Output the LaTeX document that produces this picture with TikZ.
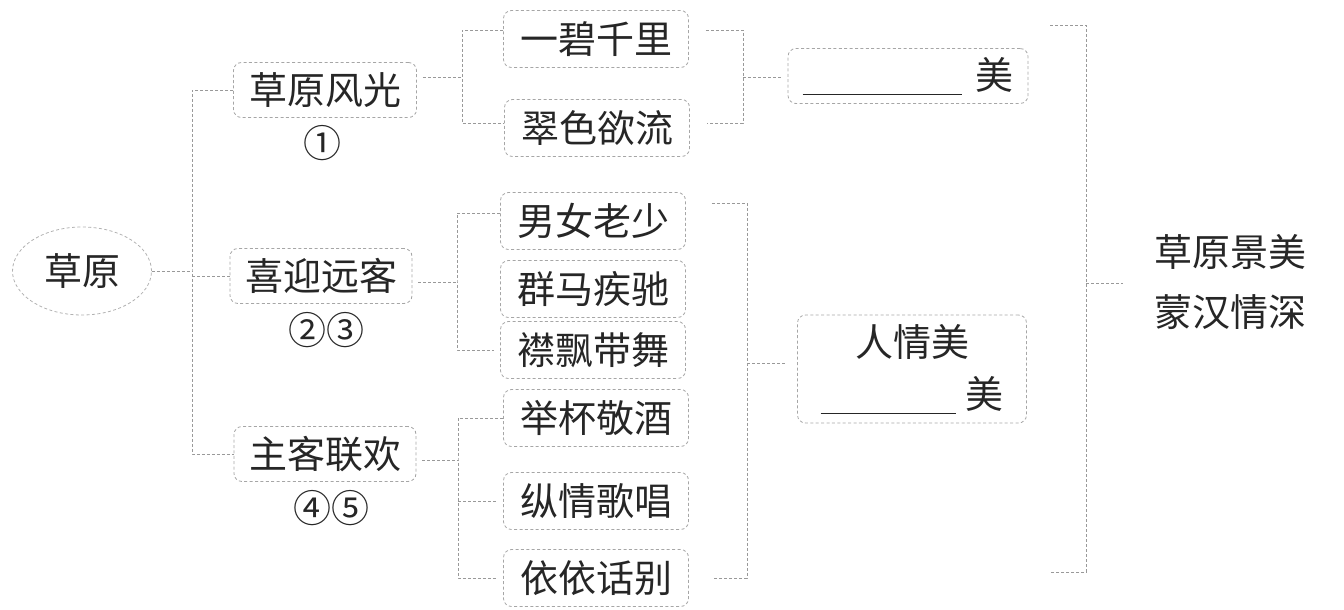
\documentclass[tikz,border=0pt]{standalone}
\usepackage{fontspec}
\newfontfamily\cjk{Noto Sans CJK SC}
\usetikzlibrary{positioning,shapes.geometric}

\begin{document}
\begin{tikzpicture}[x=0.5pt,y=-0.5pt,
		every node/.style={font=\cjk\fontsize{19pt}{26pt}\selectfont,text=black!85},
		link/.style={draw=black!40,dash pattern=on 1.5pt off 1pt,line width=0.4pt},
		tbox/.style={draw=black!35,dash pattern=on 1.5pt off 1.2pt,line width=0.4pt,rounded corners=4pt,
			minimum width=92.5pt,minimum height=28.5pt,inner sep=0pt},
		blank/.style={\rule[-3pt]{#1}{0.7pt}}]
	\useasboundingbox (0,0) rectangle (1344,610);
	\node[ellipse,draw=black!30,dash pattern=on 1.5pt off 1.2pt,line width=0.4pt,
		minimum width=69.5pt,minimum height=44pt,inner sep=0pt] (root) at (82,271) {草原};
	\node[tbox,minimum width=91.5pt,minimum height=27.5pt] (p1) at (325,90) {草原风光};
	\node (n1) at (322,143) {①};
	\node[tbox,minimum width=91pt,minimum height=27.5pt] (p2) at (321,276) {喜迎远客};
	\node (n2) at (326,330) {②③};
	\node[tbox,minimum width=91pt,minimum height=27.5pt] (p3) at (325,454) {主客联欢};
	\node (n3) at (331,508) {④⑤};
	\node[tbox] (a1) at (596,39) {一碧千里};
	\node[tbox] (a2) at (597,128) {翠色欲流};
	\node[tbox] (b1) at (593,221) {男女老少};
	\node[tbox] (b2) at (593,289) {群马疾驰};
	\node[tbox] (b3) at (593,350) {襟飘带舞};
	\node[tbox] (c1) at (596,418) {举杯敬酒};
	\node[tbox] (c2) at (596,501) {纵情歌唱};
	\node[tbox] (c3) at (596,578) {依依话别};
	\node[tbox,minimum width=120pt,minimum height=27.5pt] (s1) at (908,76)
		{\rule[-3pt]{79.5pt}{0.7pt}\hspace{7pt}美};
	\node[tbox,minimum width=114.5pt,minimum height=54pt,align=center] (s2) at (912,369)
		{人情美\\\rule[-3pt]{67.5pt}{0.7pt}\hspace{5pt}美};
	\node[align=center,font=\cjk\fontsize{19pt}{30pt}\selectfont] (sum) at (1230,282) {草原景美\\蒙汉情深};

	\coordinate (rj) at (192,271);
	\coordinate (j1) at (462,77);
	\coordinate (j2) at (457,282);
	\coordinate (j3) at (458,460);
	\coordinate (k1) at (743,77);
	\coordinate (k2) at (747,363);
	\coordinate (bt) at (1050,25);
	\coordinate (bb) at (1050,572);
	\coordinate (bj) at (1086,283);

	\draw[link] (root.east) -- (rj);
	\draw[link] (p1.west) -| (rj) |- (p3.west);
	\draw[link] (rj |- p2.west) -- (p2.west);

	\draw[link,shorten <=3pt] (p1.east |- j1) -- (j1);
	\draw[link] ([yshift=4.5pt]a1.west) -| (j1) |- ([yshift=2.5pt]a2.west);
	\draw[link,shorten <=3pt] (p2.east |- j2) -- (j2);
	\draw[link,shorten >=3pt] ([yshift=4pt]b1.west) -| (j2) |- (b3.west);
	\draw[link,shorten <=3pt] (p3.east |- j3) -- (j3);
	\draw[link,shorten >=3pt] (c1.west) -| (j3) |- (c3.west);
	\draw[link,shorten >=3pt] (j3 |- c2.west) -- (c2.west);

	\draw[link] ([xshift=8.5pt,yshift=4.5pt]a1.east) -| (k1) |- ([xshift=8.5pt,yshift=2.5pt]a2.east);
	\draw[link,shorten >=3pt] (k1) -- (k1 -| s1.west);
	\draw[link] ([xshift=13pt,yshift=9pt]b1.east) -| (k2) |- ([xshift=12pt]c3.east);
	\draw[link,shorten >=6pt] (k2) -- (k2 -| s2.west);

	\draw[link] (bt) -| (bj) |- (bb);
	\draw[link,shorten >=12pt] (bj) -- (bj -| sum.west);
\end{tikzpicture}
\end{document}
